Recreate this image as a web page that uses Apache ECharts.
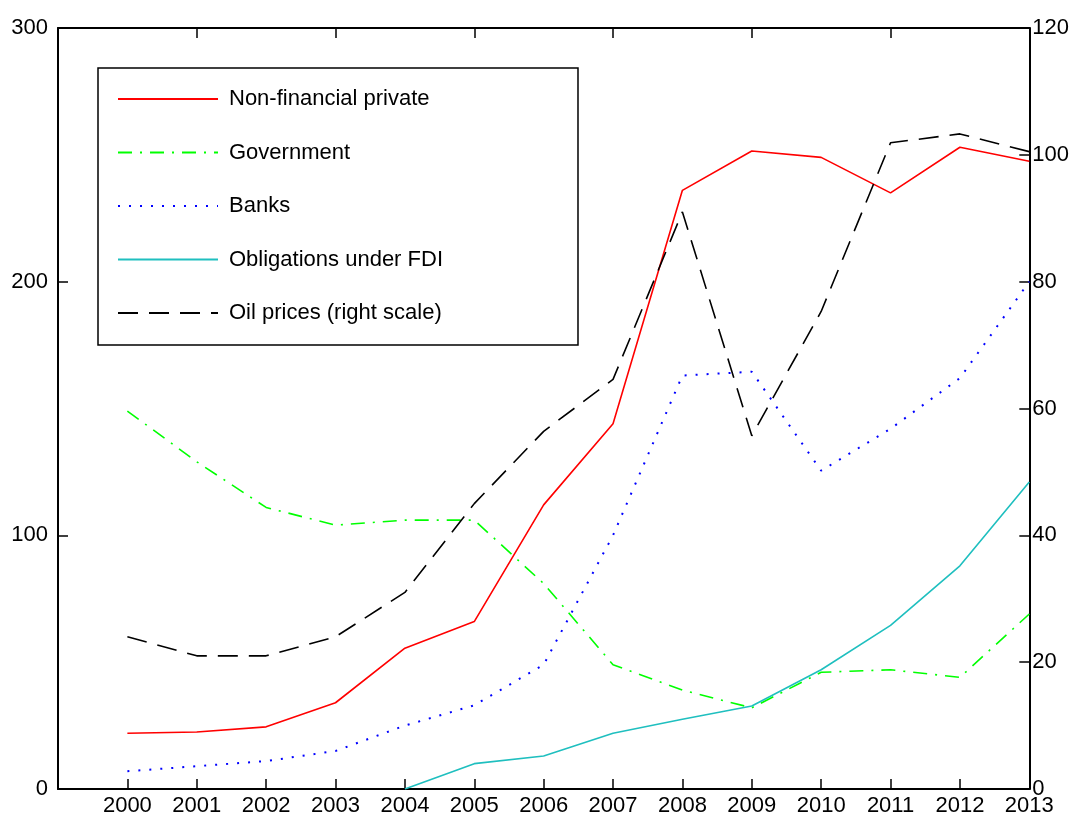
<!DOCTYPE html>
<html><head><meta charset="utf-8">
<script src="https://cdn.jsdelivr.net/npm/echarts@6/dist/echarts.min.js"></script>
<style>html,body{margin:0;padding:0;background:#fff}#c{width:1072px;height:817px}#err{position:absolute;left:300px;top:400px;color:#f00;font:14px sans-serif}</style>
</head><body><div id="c"></div><div id="err"></div>
<script>
var years = [2000,2001,2002,2003,2004,2005,2006,2007,2008,2009,2010,2011,2012,2013];
var nonFinancialPrivate = [22,22.5,24.5,34,55.5,66,112,144,236,251.5,249,235,253,247.5];
var government = [149,129,111,104,106,106,81,49,39,32,46,47,44,69];
var banks = [7,9,11,15,25,33,49,100,163,164.5,125.5,142,162,200];
var obligationsFDI = [null,null,null,null,0,10,13,22,27.5,32.7,47,64.5,88,121];
var oilPrices = [24,21,21,24,31,45,56.4,64.6,91,55.7,75.3,101.9,103.3,100.5];
var leftTicks = [0,100,200,300];
var rightTicks = [0,20,40,60,80,100,120];

function pairs(vals){
  var out=[];
  for(var i=0;i<years.length;i++){ if(vals[i]!==null) out.push([years[i], vals[i]]); }
  return out;
}
try {
var font = 'Liberation Sans, Arial, sans-serif';
var chart = echarts.init(document.getElementById('c'), null, {renderer:'canvas'});
var tick = {show:true,inside:true,length:10,lineStyle:{color:'#000',width:1.5}};
chart.setOption({
  animation:false,
  backgroundColor:'#fff',
  grid:{left:58,right:42,top:28,bottom:27,containLabel:false},
  legend:{
    orient:'vertical', left:98, top:68,
    data:['Non-financial private','Government','Banks','Obligations under FDI','Oil prices (right scale)'],
    itemWidth:100, itemHeight:14, itemGap:31.5,
    padding:[20,135,21,19],
    borderColor:'#000', borderWidth:1.5, backgroundColor:'#fff',
    itemStyle:{opacity:0},
    textStyle:{fontFamily:font, fontSize:22, color:'#000', padding:[0,0,0,6]}
  },
  xAxis:[{
    type:'value', min:1999, max:2013, interval:1, position:'bottom',
    axisLine:{show:true,onZero:false,lineStyle:{color:'#000',width:2}},
    axisTick:tick,
    axisLabel:{fontFamily:font,fontSize:22,color:'#000',margin:6,
      formatter:function(v){return v<2000?'':String(v);}},
    splitLine:{show:false}
  },{
    type:'value', min:1999, max:2013, interval:2, position:'top',
    axisLine:{show:true,onZero:false,lineStyle:{color:'#000',width:2}},
    axisTick:tick,
    axisLabel:{show:false}, splitLine:{show:false}
  }],
  yAxis:[{
    type:'value', min:0, max:300, interval:100, position:'left',
    axisLine:{show:true,onZero:false,lineStyle:{color:'#000',width:2}},
    axisTick:tick,
    axisLabel:{fontFamily:font,fontSize:22,color:'#000',margin:10,
      formatter:function(v){return leftTicks.indexOf(v)>=0?String(v):'';}},
    splitLine:{show:false}
  },{
    type:'value', min:0, max:120, interval:20, position:'right',
    axisLine:{show:true,onZero:false,lineStyle:{color:'#000',width:2}},
    axisTick:tick,
    axisLabel:{fontFamily:font,fontSize:22,color:'#000',margin:3,
      formatter:function(v){return rightTicks.indexOf(v)>=0?String(v):'';}},
    splitLine:{show:false}
  }],
  series:[
    {name:'Non-financial private',type:'line',data:pairs(nonFinancialPrivate),symbol:'none',
      lineStyle:{color:'#ff0000',width:1.6},itemStyle:{color:'#ff0000'}},
    {name:'Government',type:'line',data:pairs(government),symbol:'none',
      lineStyle:{color:'#00ff00',width:1.6,type:[14,8,2,8]},itemStyle:{color:'#00ff00'}},
    {name:'Banks',type:'line',data:pairs(banks),symbol:'none',
      lineStyle:{color:'#0000ff',width:2,type:[2,9]},itemStyle:{color:'#0000ff'}},
    {name:'Obligations under FDI',type:'line',data:pairs(obligationsFDI),symbol:'none',
      lineStyle:{color:'#1fbfbf',width:1.6},itemStyle:{color:'#1fbfbf'}},
    {name:'Oil prices (right scale)',type:'line',yAxisIndex:1,data:pairs(oilPrices),symbol:'none',
      lineStyle:{color:'#000',width:1.6,type:[20,11]},itemStyle:{color:'#000'}}
  ]
});
} catch(e) { document.getElementById('err').textContent = 'ERR: ' + e.message; }
</script></body></html>
